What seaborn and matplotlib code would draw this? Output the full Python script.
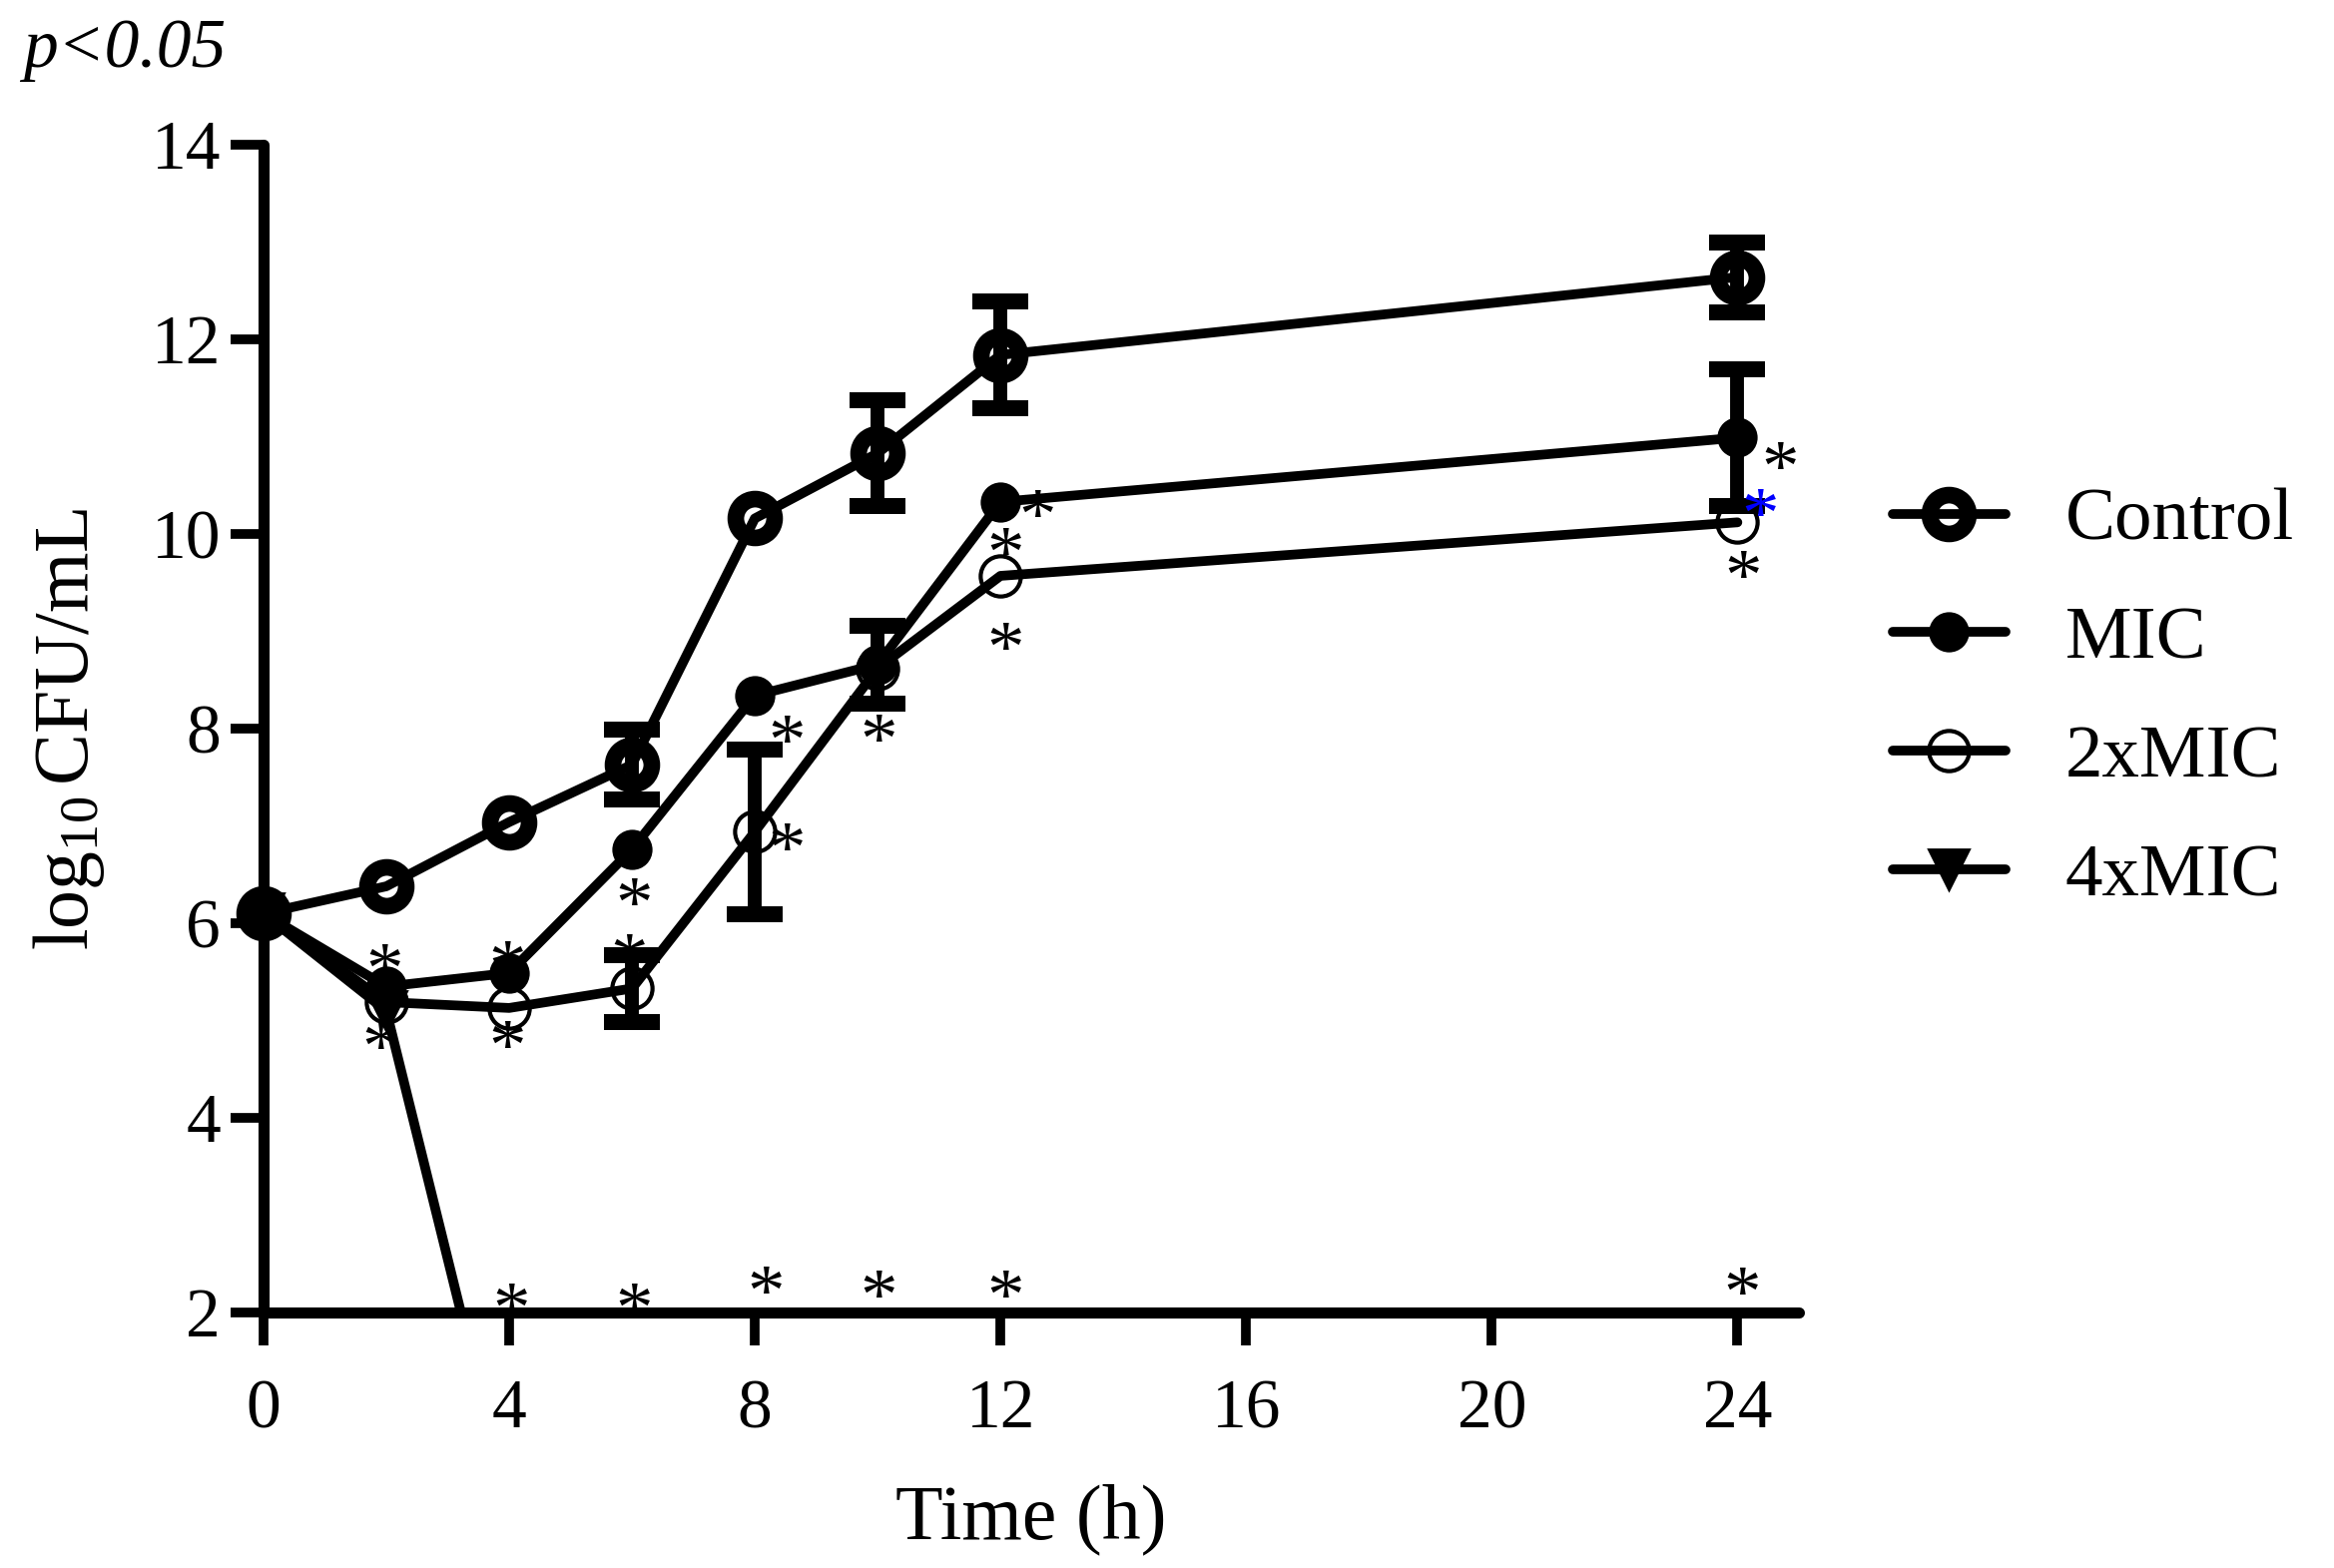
import seaborn as sns
import matplotlib.pyplot as plt
import numpy as np

sns.set_style("ticks")
plt.rcParams['font.family'] = ['Liberation Serif', 'DejaVu Serif']
plt.rcParams['mathtext.fontset'] = 'custom'
plt.rcParams['mathtext.rm'] = 'Liberation Serif'
plt.rcParams['mathtext.it'] = 'Liberation Serif:italic'
for key in ['text.color', 'axes.labelcolor', 'axes.edgecolor', 'xtick.color', 'ytick.color']:
    plt.rcParams[key] = 'black'

# time-kill data
time_h = [0, 2, 4, 6, 8, 10, 12, 24]
control = [6.1, 6.38, 7.04, 7.63, 10.16, 10.83, 11.84, 12.64]
mic = [6.1, 5.35, 5.49, 6.76, 8.34, 8.66, 10.33, 10.99]
mic2 = [6.1, 5.19, 5.13, 5.33, 6.94, 8.62, 9.57, 10.12]
mic4 = [6.1, 5.1, 0, 0, 0, 0, 0, 0]
nan = np.nan
control_err = [nan, nan, nan, 0.36, nan, 0.54, 0.55, 0.36]
mic_err = [nan, nan, nan, nan, nan, 0.40, nan, 0.70]
mic2_err = [nan, nan, nan, 0.34, 0.85, nan, nan, nan]
mic4_err = [nan] * 8
series = ["Control", "MIC", "2xMIC", "4xMIC"]

# significance asterisks (time, log value, colour)
star_t = [1.97, 1.9, 3.97, 3.97, 6.03, 5.95, 8.52, 8.52, 10.02, 12.6, 12.08, 12.08,
          24.7, 24.37, 24.1, 4.04, 6.03, 8.18, 10.02, 12.08, 24.08]
star_v = [5.66, 4.86, 5.70, 4.87, 6.34, 5.77, 8.01, 6.91, 8.02, 10.33, 9.94, 8.97,
          10.82, 10.34, 9.71, 2.18, 2.18, 2.35, 2.31, 2.31, 2.34]
star_c = ['k'] * 13 + ['#0000ff'] + ['k'] * 7

styles = [
    dict(marker='o', markersize=28, markerfacecolor='none', markeredgewidth=12, clip_on=False),
    dict(marker='o', markersize=27, markerfacecolor='black', markeredgewidth=2, clip_on=False),
    dict(marker='o', markersize=29, markerfacecolor='none', markeredgewidth=3, clip_on=False),
    dict(marker='v', markersize=29, markerfacecolor='black', markeredgewidth=2),
]

fig = plt.figure(figsize=(23.38, 15.71), dpi=100)
ax = fig.add_axes([0.1129, 0.1629, 0.6578, 0.7448])

for name, vals, err, st in zip(series, [control, mic, mic2, mic4],
                               [control_err, mic_err, mic2_err, mic4_err], styles):
    sns.lineplot(x=time_h, y=vals, ax=ax, color='black', label=name, linewidth=7,
                 markeredgecolor='black', **st)
    ax.errorbar(time_h, vals, yerr=err, fmt='none', ecolor='black',
                elinewidth=10, capsize=20, capthick=11.5, clip_on=False)

for t, v, c in zip(star_t, star_v, star_c):
    ax.annotate('*', (t, v), xytext=(0, -14), textcoords='offset points',
                ha='center', va='center', fontsize=54, color=c, annotation_clip=False)

ax.set_xlim(0, 25)
ax.set_ylim(2, 14)
ax.set_xticks([0, 4, 8, 12, 16, 20, 24])
ax.set_yticks([2, 4, 6, 8, 10, 12, 14])
sns.despine(ax=ax)
for s in ['left', 'bottom']:
    ax.spines[s].set_linewidth(8)
    ax.spines[s].set_color('black')
    ax.spines[s].set_capstyle('round')
ax.tick_params(axis='both', direction='out', length=24, width=7, color='black',
               labelcolor='black', labelsize=50)
ax.tick_params(axis='x', pad=24)
ax.tick_params(axis='y', pad=7)

ax.set_xlabel('Time (h)', fontsize=56, labelpad=30, color='black')
ax.set_ylabel(r'log$_{10}\,$CFU/mL', fontsize=56, labelpad=32, color='black')

handles, labels = ax.get_legend_handles_labels()
ax.legend(handles, labels, loc='center left', bbox_to_anchor=(0.811, 0.554),
          bbox_transform=fig.transFigure, frameon=False, fontsize=54,
          handlelength=1.5, handletextpad=0.8, labelspacing=0.67,
          borderpad=0, borderaxespad=0, labelcolor='black')

fig.text(23 / 2338, 1 - 67 / 1571, 'p<0.05', fontsize=50, fontstyle='italic',
         va='baseline', color='black')

fig.savefig('out.png', dpi=100)
